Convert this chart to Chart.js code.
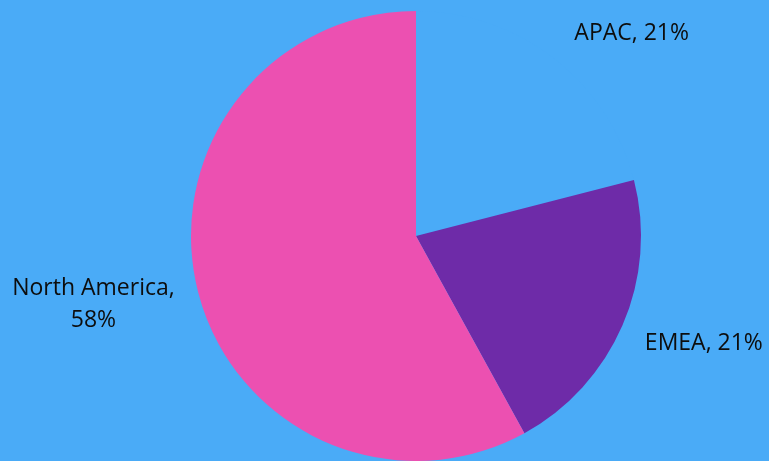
<!DOCTYPE html>
<html>
<head>
<meta charset="utf-8">
<script src="https://cdn.jsdelivr.net/npm/chart.js@4/dist/chart.umd.min.js"></script>
<style>
  html, body { margin: 0; padding: 0; background: #4aabf7; }
  #chart { display: block; }
</style>
</head>
<body>
<canvas id="chart" width="769" height="461"></canvas>
<script>
// Revenue share by region
const regions = ['APAC', 'EMEA', 'North America'];
const shares = [21, 21, 58];

// Slice fills (APAC blends into the page background)
const sliceColors = ['#4aabf7', '#6e2ba8', '#ec50b1'];

// Label placement tweaks per slice: angular shift (degrees) and distance factor
const labelShift = [9, -3, 2.5];
const labelDistance = [1.315, 1.365, 1.465];
const labelWrap = [false, false, true];

const outsideLabels = {
  id: 'outsideLabels',
  afterDatasetsDraw(chart) {
    const ctx = chart.ctx;
    const meta = chart.getDatasetMeta(0);
    const total = shares.reduce((a, b) => a + b, 0);
    ctx.save();
    ctx.font = '23px "Open Sans"';
    ctx.fillStyle = '#0d0d0d';
    ctx.textAlign = 'center';
    ctx.textBaseline = 'middle';
    meta.data.forEach((arc, i) => {
      const p = arc.getProps(['x', 'y', 'startAngle', 'endAngle', 'outerRadius'], true);
      const mid = (p.startAngle + p.endAngle) / 2 + labelShift[i] * Math.PI / 180;
      const r = p.outerRadius * labelDistance[i];
      const lx = p.x + Math.cos(mid) * r;
      const ly = p.y + Math.sin(mid) * r;
      const pct = Math.round(shares[i] / total * 100) + '%';
      const lines = labelWrap[i] ? [regions[i] + ',', pct] : [regions[i] + ', ' + pct];
      const lh = 32;
      const top = ly - (lines.length - 1) * lh / 2;
      lines.forEach((t, k) => ctx.fillText(t, lx, top + k * lh));
    });
    ctx.restore();
  }
};

new Chart(document.getElementById('chart'), {
  type: 'pie',
  data: {
    labels: regions,
    datasets: [{
      data: shares,
      backgroundColor: sliceColors,
      borderWidth: 0,
      hoverOffset: 0
    }]
  },
  options: {
    responsive: false,
    animation: false,
    layout: { padding: { top: 11, bottom: 0, left: 191, right: 128 } },
    plugins: {
      legend: { display: false },
      tooltip: { enabled: false }
    }
  },
  plugins: [outsideLabels]
});
</script>
</body>
</html>
